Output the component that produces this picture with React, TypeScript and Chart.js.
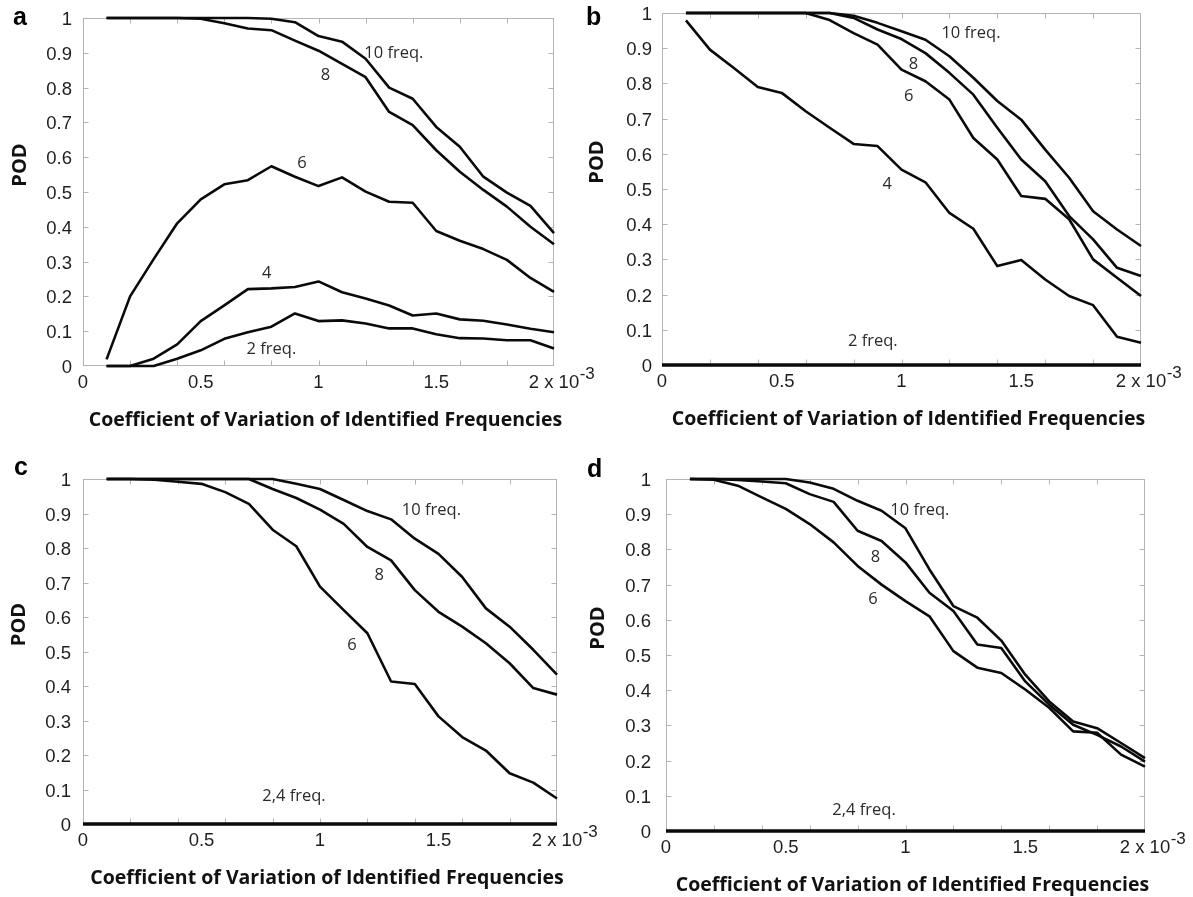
import React, { useEffect, useRef } from "react";
import { Chart, registerables } from "chart.js";

Chart.register(...registerables);

// ---------- data (x in units of 1e-3) ----------
const CV = [0.1, 0.2, 0.3, 0.4, 0.5, 0.6, 0.7, 0.8, 0.9, 1.0, 1.1, 1.2, 1.3, 1.4, 1.5, 1.6, 1.7, 1.8, 1.9, 2.0];
const CV_FULL = [0, 0.1, 0.2, 0.3, 0.4, 0.5, 0.6, 0.7, 0.8, 0.9, 1.0, 1.1, 1.2, 1.3, 1.4, 1.5, 1.6, 1.7, 1.8, 1.9, 2.0];
const X_MINOR_TICKS = [0.2, 0.4, 0.6, 0.8, 1.0, 1.2, 1.4, 1.6, 1.8];
const Y_MINOR_TICKS = [0.1, 0.2, 0.3, 0.4, 0.5, 0.6, 0.7, 0.8, 0.9];
const X_LABEL_LAST = "2 x 10";
const X_LABEL_EXP = "-3";

// panel a
const A_10 = [1, 1, 1, 1, 1, 1, 1, 0.998, 0.988, 0.948, 0.932, 0.883, 0.8, 0.768, 0.687, 0.63, 0.544, 0.498, 0.46, 0.382];
const A_8 = [1, 1, 1, 1, 0.998, 0.985, 0.97, 0.965, 0.935, 0.906, 0.868, 0.83, 0.73, 0.692, 0.62, 0.558, 0.506, 0.458, 0.4, 0.35];
const A_6 = [0.019, 0.2, 0.307, 0.41, 0.479, 0.522, 0.534, 0.574, 0.544, 0.517, 0.542, 0.501, 0.472, 0.469, 0.388, 0.36, 0.336, 0.305, 0.253, 0.213];
const A_4 = [0, 0, 0.021, 0.062, 0.129, 0.174, 0.221, 0.223, 0.227, 0.243, 0.212, 0.194, 0.174, 0.145, 0.151, 0.134, 0.13, 0.119, 0.107, 0.097];
const A_2 = [0, 0, 0, 0.021, 0.045, 0.078, 0.097, 0.113, 0.151, 0.129, 0.131, 0.122, 0.108, 0.108, 0.091, 0.08, 0.079, 0.074, 0.074, 0.05];

// panel b
const B_10 = [1, 1, 1, 1, 1, 1, 1, 0.992, 0.972, 0.948, 0.924, 0.877, 0.816, 0.75, 0.697, 0.612, 0.532, 0.437, 0.385, 0.338];
const B_8 = [1, 1, 1, 1, 1, 1, 1, 0.986, 0.953, 0.926, 0.886, 0.83, 0.768, 0.674, 0.584, 0.522, 0.423, 0.357, 0.276, 0.253];
const B_6 = [1, 1, 1, 1, 1, 1, 0.98, 0.943, 0.91, 0.839, 0.806, 0.754, 0.645, 0.584, 0.48, 0.472, 0.414, 0.3, 0.248, 0.196];
const B_4 = [0.979, 0.896, 0.844, 0.79, 0.773, 0.721, 0.674, 0.628, 0.622, 0.555, 0.519, 0.432, 0.387, 0.281, 0.298, 0.243, 0.196, 0.17, 0.08, 0.063];
const B_2 = [0, 0, 0, 0, 0, 0, 0, 0, 0, 0, 0, 0, 0, 0, 0, 0, 0, 0, 0, 0, 0];

// panel c
const C_10 = [1, 1, 1, 1, 1, 1, 1, 1, 0.986, 0.971, 0.939, 0.907, 0.883, 0.827, 0.783, 0.716, 0.625, 0.572, 0.505, 0.433];
const C_8 = [1, 1, 1, 1, 1, 1, 1, 0.971, 0.945, 0.911, 0.87, 0.803, 0.764, 0.678, 0.615, 0.572, 0.524, 0.466, 0.394, 0.375];
const C_6 = [1, 1, 0.998, 0.992, 0.986, 0.962, 0.928, 0.853, 0.805, 0.688, 0.62, 0.553, 0.413, 0.406, 0.312, 0.252, 0.213, 0.147, 0.12, 0.074];
const C_24 = [0, 0, 0, 0, 0, 0, 0, 0, 0, 0, 0, 0, 0, 0, 0, 0, 0, 0, 0, 0, 0];

// panel d
const D_10 = [1, 1, 1, 1, 1, 0.99, 0.972, 0.938, 0.91, 0.86, 0.743, 0.639, 0.606, 0.541, 0.444, 0.368, 0.311, 0.292, 0.25, 0.207];
const D_8 = [1, 1, 0.997, 0.993, 0.988, 0.957, 0.935, 0.853, 0.824, 0.763, 0.677, 0.625, 0.53, 0.52, 0.425, 0.359, 0.302, 0.273, 0.24, 0.197];
const D_6 = [1, 0.998, 0.981, 0.948, 0.915, 0.872, 0.82, 0.753, 0.7, 0.653, 0.61, 0.511, 0.464, 0.449, 0.402, 0.35, 0.283, 0.279, 0.217, 0.183];
const D_24 = [0, 0, 0, 0, 0, 0, 0, 0, 0, 0, 0, 0, 0, 0, 0, 0, 0, 0, 0, 0, 0];

// curve labels: [text, x, y] in data units
const A_NOTES: [string, number, number][] = [["10 freq.", 1.32, 0.9], ["8", 1.03, 0.835], ["6", 0.93, 0.582], ["4", 0.78, 0.267], ["2 freq.", 0.8, 0.048]];
const B_NOTES: [string, number, number][] = [["10 freq.", 1.29, 0.943], ["8", 1.05, 0.853], ["6", 1.03, 0.763], ["4", 0.94, 0.513], ["2 freq.", 0.88, 0.068]];
const C_NOTES: [string, number, number][] = [["10 freq.", 1.47, 0.909], ["8", 1.25, 0.721], ["6", 1.135, 0.519], ["2,4 freq.", 0.89, 0.08]];
const D_NOTES: [string, number, number][] = [["10 freq.", 1.06, 0.912], ["8", 0.875, 0.777], ["6", 0.864, 0.658], ["2,4 freq.", 0.827, 0.06]];

const X_TITLE = "Coefficient of Variation of Identified Frequencies";
const Y_TITLE = "POD";

// ---------- styles / layout ----------
const TICK_FONT = '"Liberation Sans", Arial, sans-serif';
const TITLE_FONT = '"Open Sans", sans-serif';
const TICK_SIZE = 18.5;
const X_PAD = 6;
const FRAME_COLOR = "#b4b4b4";
const LINE_COLOR = "#0a0a0a";

type Series = { x: number[]; y: number[]; w?: number };
type Panel = {
  letter: string;
  box: { left: number; top: number; width: number; height: number };
  area: { l: number; t: number; r: number; b: number };
  yPad: number;
  letterPos: [number, number];
  podX: number;
  series: Series[];
  notes: [string, number, number][];
};

const PANELS: Panel[] = [
  {
    letter: "a",
    box: { left: 0, top: 0, width: 615, height: 440 },
    area: { l: 83, t: 18, r: 554, b: 366 },
    yPad: 11,
    letterPos: [13, 25],
    podX: 20,
    series: [{ x: CV, y: A_10 }, { x: CV, y: A_8 }, { x: CV, y: A_6 }, { x: CV, y: A_4 }, { x: CV, y: A_2 }],
    notes: A_NOTES,
  },
  {
    letter: "b",
    box: { left: 575, top: 0, width: 618, height: 440 },
    area: { l: 662, t: 13, r: 1141, b: 365 },
    yPad: 10,
    letterPos: [586, 25],
    podX: 597,
    series: [{ x: CV, y: B_10 }, { x: CV, y: B_8 }, { x: CV, y: B_6 }, { x: CV, y: B_4 }, { x: CV_FULL, y: B_2, w: 3.6 }],
    notes: B_NOTES,
  },
  {
    letter: "c",
    box: { left: 0, top: 440, width: 615, height: 457 },
    area: { l: 83, t: 479, r: 557, b: 824 },
    yPad: 12,
    letterPos: [14, 475],
    podX: 19,
    series: [{ x: CV, y: C_10 }, { x: CV, y: C_8 }, { x: CV, y: C_6 }, { x: CV_FULL, y: C_24, w: 3.6 }],
    notes: C_NOTES,
  },
  {
    letter: "d",
    box: { left: 575, top: 440, width: 618, height: 457 },
    area: { l: 666, t: 479, r: 1145, b: 831 },
    yPad: 15,
    letterPos: [587, 477],
    podX: 598,
    series: [{ x: CV, y: D_10 }, { x: CV, y: D_8 }, { x: CV, y: D_6 }, { x: CV_FULL, y: D_24, w: 3.6 }],
    notes: D_NOTES,
  },
];

function makeDecor(p: Panel) {
  return {
    id: "decor_" + p.letter,
    beforeDatasetsDraw(chart: any) {
      const { ctx, chartArea: ca } = chart;
      const xs = chart.scales.x;
      const ys = chart.scales.y;
      ctx.save();
      ctx.strokeStyle = FRAME_COLOR;
      ctx.lineWidth = 1;
      const L = Math.round(ca.left) + 0.5;
      const R = Math.round(ca.right) - 0.5;
      const T = Math.round(ca.top) + 0.5;
      const B = Math.round(ca.bottom) - 0.5;
      ctx.strokeRect(L, T, R - L, B - T);
      ctx.beginPath();
      for (const v of X_MINOR_TICKS) {
        const px = Math.round(xs.getPixelForValue(v)) + 0.5;
        ctx.moveTo(px, B);
        ctx.lineTo(px, B - 5);
        ctx.moveTo(px, T);
        ctx.lineTo(px, T + 5);
      }
      for (const v of Y_MINOR_TICKS) {
        const py = Math.round(ys.getPixelForValue(v)) + 0.5;
        ctx.moveTo(L, py);
        ctx.lineTo(L + 5, py);
        ctx.moveTo(R, py);
        ctx.lineTo(R - 5, py);
      }
      ctx.stroke();
      ctx.restore();
    },
    afterDraw(chart: any) {
      const { ctx, chartArea: ca } = chart;
      const xs = chart.scales.x;
      const ys = chart.scales.y;
      const ox = p.box.left;
      const oy = p.box.top;
      ctx.save();

      // curve annotations
      ctx.fillStyle = "#2a2a2a";
      ctx.font = `16.5px ${TITLE_FONT}`;
      ctx.textAlign = "center";
      ctx.textBaseline = "middle";
      for (const [t, x, y] of p.notes) {
        ctx.fillText(t, xs.getPixelForValue(x), ys.getPixelForValue(y));
      }

      // exponent of last x tick label
      ctx.font = `${TICK_SIZE}px ${TICK_FONT}`;
      const w = ctx.measureText(X_LABEL_LAST).width;
      const labelCy = xs.top + X_PAD + (TICK_SIZE * 1.2) / 2;
      ctx.fillStyle = "#1e1e1e";
      ctx.textAlign = "left";
      ctx.font = `17px ${TICK_FONT}`;
      ctx.fillText(X_LABEL_EXP, xs.getPixelForValue(2) + w / 2 + 0.5, labelCy - 9);

      // panel letter
      ctx.fillStyle = "#000";
      ctx.font = `bold 25px ${TICK_FONT}`;
      ctx.textAlign = "left";
      ctx.textBaseline = "alphabetic";
      ctx.fillText(p.letter, p.letterPos[0] - ox, p.letterPos[1] - oy);

      // x title
      ctx.font = `bold 19.5px ${TITLE_FONT}`;
      ctx.textAlign = "center";
      ctx.textBaseline = "middle";
      ctx.fillStyle = "#111";
      ctx.fillText(X_TITLE, (ca.left + ca.right) / 2 + 7, ca.bottom + 54);

      // y title
      ctx.font = `bold 20px ${TITLE_FONT}`;
      ctx.save();
      ctx.translate(p.podX - ox, (ca.top + ca.bottom) / 2 - 27);
      ctx.rotate(-Math.PI / 2);
      ctx.fillText(Y_TITLE, 0, 0);
      ctx.restore();

      ctx.restore();
    },
  };
}

function PanelChart({ p }: { p: Panel }) {
  const ref = useRef<HTMLCanvasElement | null>(null);
  useEffect(() => {
    const canvas = ref.current;
    if (!canvas) return;
    const { box, area } = p;
    const chart = new Chart(canvas, {
      type: "line",
      data: {
        datasets: p.series.map((s, i) => ({
          label: p.letter + i,
          data: s.y.map((v, k) => ({ x: s.x[k], y: v })),
          borderColor: LINE_COLOR,
          borderWidth: s.w ?? 2.6,
          pointRadius: 0,
          fill: false,
          tension: 0,
          clip: false as any,
          borderJoinStyle: "round" as const,
        })),
      },
      options: {
        responsive: false,
        animation: false,
        devicePixelRatio: 1,
        events: [],
        layout: {
          padding: { left: 0, top: area.t - box.top, right: box.left + box.width - area.r, bottom: 0 },
        },
        plugins: { legend: { display: false }, tooltip: { enabled: false }, title: { display: false } },
        scales: {
          x: {
            type: "linear",
            min: 0,
            max: 2,
            grid: { display: false, drawTicks: false },
            border: { display: false },
            afterFit: (s: any) => {
              s.height = box.top + box.height - area.b;
              s.paddingLeft = 0;
              s.paddingRight = 0;
            },
            ticks: {
              stepSize: 0.5,
              autoSkip: false,
              maxRotation: 0,
              padding: X_PAD,
              color: "#1e1e1e",
              font: { family: TICK_FONT, size: TICK_SIZE },
              callback: (v: any) => (Math.abs(Number(v) - 2) < 1e-9 ? X_LABEL_LAST : String(Number(Number(v).toFixed(1)))),
            },
          },
          y: {
            type: "linear",
            min: 0,
            max: 1,
            grid: { display: false, drawTicks: false },
            border: { display: false },
            afterFit: (s: any) => {
              s.width = area.l - box.left;
              s.paddingTop = 0;
              s.paddingBottom = 0;
            },
            ticks: {
              stepSize: 0.1,
              autoSkip: false,
              padding: p.yPad,
              labelOffset: 2,
              color: "#1e1e1e",
              font: { family: TICK_FONT, size: TICK_SIZE },
              callback: (v: any) => String(Number(Number(v).toFixed(1))),
            },
          },
        },
      } as any,
      plugins: [makeDecor(p)],
    });
    return () => chart.destroy();
  }, [p]);
  return (
    <canvas
      ref={ref}
      width={p.box.width}
      height={p.box.height}
      style={{ position: "absolute", left: p.box.left, top: p.box.top, width: p.box.width, height: p.box.height }}
    />
  );
}

export default function App() {
  return (
    <div style={{ position: "absolute", left: 0, top: 0, width: 1193, height: 897, background: "#fff" }}>
      {PANELS.map((p) => (
        <PanelChart key={p.letter} p={p} />
      ))}
    </div>
  );
}
